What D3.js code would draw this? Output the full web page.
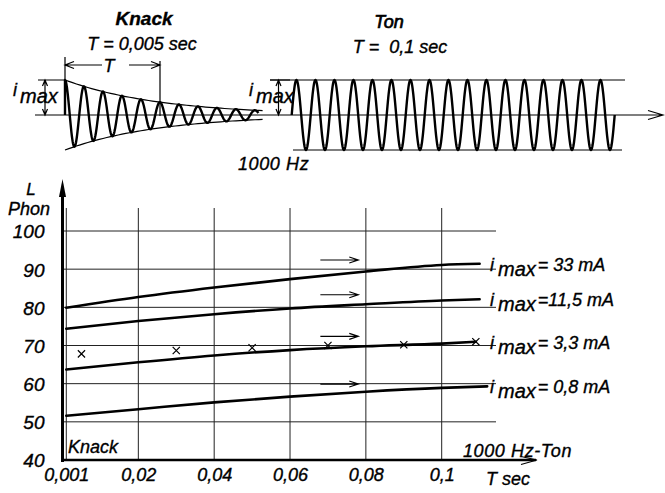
<!DOCTYPE html>
<meta charset="utf-8">
<head>
<style>
  body { margin: 0; background: #fff; }
  text {
    font-family: "Liberation Sans Narrow", "Liberation Sans", sans-serif;
    font-style: italic;
    fill: #000;
    stroke: #000;
    stroke-width: 0.35px;
  }
  .wide { font-family: "Liberation Sans", sans-serif; }
  .grid line { stroke: #222; stroke-width: 1; }
  .curve { fill: none; stroke: #000; stroke-width: 2.6; stroke-linecap: round; }
  .thin { fill: none; stroke: #000; stroke-width: 1.2; }
  .wave { fill: none; stroke: #000; stroke-width: 2.4; stroke-linejoin: round; }
</style>
<script src="https://d3js.org/d3.v7.min.js"></script>
</head>
<body>
<script>

// Lautstaerke L (Phon) ueber Dauer T (sec), 1000 Hz-Ton bzw. Knack
var xTicks = [0.001, 0.02, 0.04, 0.06, 0.08, 0.1];
var yTicks = [40, 50, 60, 70, 80, 90, 100];
var gridY = [50, 60, 70, 80, 90, 100];

var currentLabels = ["= 33 mA", "=11,5 mA", "= 3,3 mA", "= 0,8 mA"];

var curve33  = [[0.001, 79.9], [0.02, 82.7], [0.04, 85.2], [0.06, 87.4], [0.08, 89.4], [0.1, 91.1], [0.11, 91.4]];
var curve115 = [[0.001, 74.4], [0.02, 76.4], [0.04, 78.2], [0.06, 79.7], [0.08, 80.8], [0.1, 81.8], [0.11, 82.1]];
var curve33b = [[0.001, 63.7], [0.02, 65.6], [0.04, 67.4], [0.06, 68.8], [0.08, 69.8], [0.1, 70.5], [0.109, 71.0]];
var curve08  = [[0.001, 51.6], [0.02, 53.3], [0.04, 55.1], [0.06, 56.6], [0.08, 57.9], [0.1, 58.9], [0.112, 59.3]];

// Knack-Messpunkte (x)
var knackT = [0.005, 0.03, 0.05, 0.07, 0.09, 0.109];
var knackL = [67.8, 68.7, 69.4, 70.0, 70.2, 71.0];

// Pfeile ueber den Kurven
var arrowL = [92.4, 83.3, 72.4, 59.9];
var arrowT = [0.068, 0.078];

// Skizze oben: 1000 Hz, Knack T = 0,005 sec, Ton (Ausschnitt)
var freq = 1000;
var knackTau = 0.005;
var knackLen = 0.0102;
var toneLen = 0.017;

var width = 665, height = 493;
var svg = d3.select("body").append("svg")
    .attr("width", width)
    .attr("height", height);

var curves = [curve33, curve115, curve33b, curve08];

// ---------- main chart ----------
var x = d3.scaleLinear().domain([0, 0.1]).range([62.5, 441.7]);
var y = d3.scaleLinear().domain([40, 100]).range([460, 231]);
var gridTop = 208, gridRight = 496;

var grid = svg.append("g").attr("class", "grid");
grid.selectAll(".v").data(xTicks).enter().append("line")
    .attr("x1", d => x(d)).attr("x2", d => x(d))
    .attr("y1", y(40)).attr("y2", gridTop);
grid.selectAll(".h").data(gridY).enter().append("line")
    .attr("x1", x(0)).attr("x2", gridRight)
    .attr("y1", d => y(d)).attr("y2", d => y(d));

// axes
svg.append("line").attr("x1", x(0)).attr("x2", x(0))
    .attr("y1", y(40) + 2).attr("y2", 190)
    .attr("stroke", "#000").attr("stroke-width", 3);
svg.append("path")
    .attr("d", "M" + x(0) + ",179 L" + (x(0) - 3.5) + ",197 L" + (x(0) + 3.5) + ",197 Z")
    .attr("fill", "#000");

svg.append("line").attr("x1", x(0) - 1).attr("x2", 536)
    .attr("y1", y(40)).attr("y2", y(40))
    .attr("stroke", "#000").attr("stroke-width", 2.6);
svg.append("path").attr("class", "thin")
    .attr("d", "M521,456.5 L537,460 L521,464.5")
    .attr("stroke-width", 1.8);

var yAxis = d3.axisLeft(y).tickValues(yTicks).tickSize(0).tickPadding(18)
    .tickFormat(d3.format("d"));
svg.append("g").attr("transform", "translate(" + x(0) + ",0)")
    .call(yAxis)
    .call(g => g.select(".domain").remove())
    .selectAll("text")
    .style("font-size", "19px").style("font-family", null).attr("dy", "0.36em");

var xAxis = d3.axisBottom(x).tickValues(xTicks).tickSize(0).tickPadding(8)
    .tickFormat(d => String(d).replace(".", ","));
svg.append("g").attr("transform", "translate(0," + y(40) + ")")
    .call(xAxis)
    .call(g => g.select(".domain").remove())
    .selectAll("text")
    .style("font-size", "18px").style("font-family", null);

svg.append("text").attr("x", 31).attr("y", 195).attr("text-anchor", "middle")
    .style("font-size", "17px").text("L");
svg.append("text").attr("x", 29).attr("y", 215).attr("text-anchor", "middle")
    .style("font-size", "18px").text("Phon");
svg.append("text").attr("x", 68).attr("y", 453)
    .style("font-size", "18px").text("Knack");
svg.append("text").attr("x", 463).attr("y", 457).attr("letter-spacing", 0.6)
    .style("font-size", "18px").text("1000 Hz-Ton");
svg.append("text").attr("x", 486).attr("y", 485)
    .style("font-size", "18px").text("T sec");

// curves
var line = d3.line().x(d => x(d[0])).y(d => y(d[1])).curve(d3.curveMonotoneX);
svg.selectAll(".curve").data(curves).enter().append("path")
    .attr("class", "curve").attr("d", line);

// arrows
svg.selectAll(".arr").data(arrowL).enter().append("path")
    .attr("class", "thin")
    .attr("stroke-width", (d, i) => i == 3 ? 2.4 : 1.3)
    .attr("d", d => {
      var x0 = x(arrowT[0]), x1 = x(arrowT[1]), yy = y(d);
      return "M" + x0 + "," + yy + " L" + x1 + "," + yy +
        " M" + (x1 - 9) + "," + (yy - 3) + " L" + x1 + "," + yy + " L" + (x1 - 9) + "," + (yy + 3);
    });

// knack points
svg.selectAll(".pt").data(knackT).enter().append("path")
    .attr("class", "thin").attr("stroke-width", 1.5)
    .attr("d", (d, i) => {
      var cx = x(d), cy = y(knackL[i]), r = 3.6;
      return "M" + (cx - r) + "," + (cy - r) + " L" + (cx + r) + "," + (cy + r) +
        " M" + (cx - r) + "," + (cy + r) + " L" + (cx + r) + "," + (cy - r);
    });

// curve labels
curves.forEach(function(c, i) {
  var last = c[c.length - 1];
  var t = svg.append("text").attr("class", "wide")
      .attr("x", 490).attr("y", y(last[1]) + 7)
      .style("font-size", "18px");
  t.append("tspan").text("i");
  t.append("tspan").attr("dx", 4).attr("dy", 5).style("font-size", "20px").text("max");
  t.append("tspan").attr("dx", 2).attr("dy", -5).text(currentLabels[i]);
});

// ---------- sketch on top ----------
var base = 115, amp = 35;
var ts = d3.scaleLinear().domain([0, 0.001]).range([0, 19]);
var a = d3.scaleLinear().domain([-1, 1]).range([base + amp, base - amp]);
var knackX0 = 65, toneX0 = 291.7;

var knackPts = d3.range(0, knackLen, 0.00002).map(t =>
    [knackX0 + ts(t), a(Math.exp(-t / knackTau) * Math.cos(2 * Math.PI * freq * t))]);
knackPts.unshift([knackX0, base]);
svg.append("path").attr("class", "wave").attr("d", d3.line()(knackPts));

var envT = d3.range(0, knackLen + 0.0003, 0.0002);
[1, -1].forEach(function(s) {
  svg.append("path").attr("class", "thin")
      .attr("d", d3.line()(envT.map(t => [knackX0 + ts(t), a(s * Math.exp(-t / knackTau))])));
});

var tonePts = d3.range(0, toneLen + 0.00001, 0.00002).map(t =>
    [toneX0 + ts(t), a(Math.sin(2 * Math.PI * freq * t))]);
svg.append("path").attr("class", "wave").attr("d", d3.line()(tonePts));
svg.append("line").attr("class", "thin").attr("stroke", "#000")
    .attr("x1", 270).attr("x2", 625).attr("y1", a(1)).attr("y2", a(1));
svg.append("line").attr("class", "thin").attr("stroke", "#000")
    .attr("x1", 293).attr("x2", 622).attr("y1", a(-1)).attr("y2", a(-1));

// baseline with arrow
svg.append("path").attr("class", "thin").attr("stroke-width", 1.4)
    .attr("d", "M35," + base + " L663," + base + " M648," + (base - 4.5) + " L663," + base + " L648," + (base + 4.5));

// T bracket
var tEnd = knackX0 + ts(knackTau);
svg.append("path").attr("class", "thin")
    .attr("d", "M" + knackX0 + ",57 L" + knackX0 + "," + a(1) +
      " M" + knackX0 + ",65 L102,65 M" + (knackX0 + 9) + ",61.5 L" + knackX0 + ",65 L" + (knackX0 + 9) + ",68.5" +
      " M129,65 L" + tEnd + ",65 M" + (tEnd - 9) + ",61.5 L" + tEnd + ",65 L" + (tEnd - 9) + ",68.5" +
      " M" + tEnd + ",61 L" + tEnd + "," + (base + 1));
svg.append("text").attr("x", 109).attr("y", 72).attr("text-anchor", "middle")
    .style("font-size", "18px").text("T");

// i_max dimension marks
function dim(xx, x0, x1) {
  svg.append("path").attr("class", "thin").attr("stroke-width", 1)
      .attr("d", "M" + x0 + "," + a(1) + " L" + x1 + "," + a(1) +
        " M" + xx + "," + a(1) + " L" + xx + "," + base +
        " M" + (xx - 2.5) + "," + (a(1) + 6) + " L" + xx + "," + a(1) + " L" + (xx + 2.5) + "," + (a(1) + 6) +
        " M" + (xx - 2.5) + "," + (base - 6) + " L" + xx + "," + base + " L" + (xx + 2.5) + "," + (base - 6));
}
dim(45, 38, knackX0);
dim(278.5, 270, 290);

function imax(xx, yy) {
  var t = svg.append("text").attr("class", "wide").attr("x", xx).attr("y", yy)
      .style("font-size", "18px");
  t.append("tspan").text("i");
  t.append("tspan").attr("dx", 3).attr("dy", 7).style("font-size", "20px").text("max");
}
imax(13, 96);
imax(249, 96);

svg.append("text").attr("class", "wide").attr("x", 144).attr("y", 25).attr("text-anchor", "middle")
    .style("font-size", "19px").style("font-weight", "bold").text("Knack");
svg.append("text").attr("x", 142).attr("y", 50).attr("text-anchor", "middle")
    .style("font-size", "18px").text("T = 0,005 sec");
svg.append("text").attr("class", "wide").attr("x", 389).attr("y", 28).attr("text-anchor", "middle")
    .style("font-size", "18px").style("stroke-width", "0.7px").text("Ton");
svg.append("text").attr("x", 400).attr("y", 53).attr("text-anchor", "middle")
    .attr("xml:space", "preserve").style("font-size", "18px").text("T =  0,1 sec");
svg.append("text").attr("x", 238).attr("y", 170).attr("letter-spacing", 0.6)
    .style("font-size", "18px").text("1000 Hz");

</script>
</body>
